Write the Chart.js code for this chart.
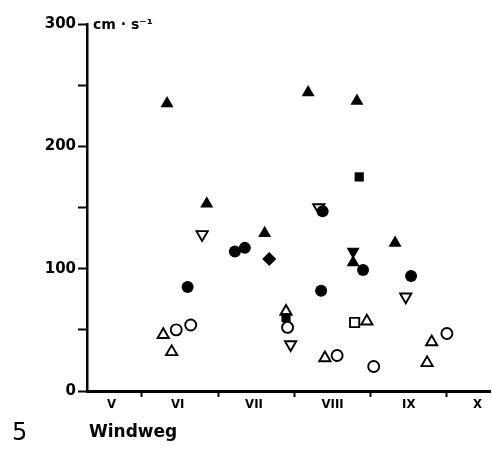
<!DOCTYPE html>
<html>
<head>
<meta charset="utf-8">
<script src="https://cdn.jsdelivr.net/npm/chart.js@4/dist/chart.umd.min.js"></script>
<style>
  html, body { margin: 0; padding: 0; background: #fff; }
  canvas { display: block; }
</style>
</head>
<body>
<canvas id="myChart" width="492" height="450"></canvas>
<script>
// x is time in months: 6 = start of June, 7 = start of July, ...
// y is wind run in cm/s
const filledTriangles = [[6.33, 235], [6.85, 153], [7.61, 129], [8.18, 244], [8.82, 237], [8.77, 105], [9.32, 121]];
const filledCircles   = [[6.60, 85], [7.22, 114], [7.35, 117], [8.37, 147], [8.35, 82], [8.90, 99], [9.53, 94]];
const openTriangles   = [[6.28, 46], [6.39, 32], [7.89, 65], [8.40, 27], [8.95, 57], [9.80, 40], [9.74, 23]];
const openCircles     = [[6.45, 50], [6.64, 54], [7.91, 52], [8.56, 29], [9.04, 20], [10.0, 47]];
const openNablas      = [[6.79, 128], [8.32, 150], [7.95, 38], [9.46, 77]];
const filledNablas    = [[8.77, 114]];
const filledSquares   = [[8.85, 175], [7.89, 60]];
const openSquares     = [[8.79, 56]];
const filledDiamonds  = [[7.67, 108]];

const monthLabels = ['V', 'VI', 'VII', 'VIII', 'IX', 'X'];
const monthLabelAt = [5.6, 6.47, 7.47, 8.5, 9.5, 10.4];
const monthStarts = [6, 7, 8, 9, 10];

const yLabels = [0, 100, 200, 300];

const toPoints = arr => arr.map(p => ({ x: p[0], y: p[1] }));

function series(pts, style, filled, radius, rotation, order) {
  return {
    data: toPoints(pts),
    pointStyle: style,
    pointRadius: radius,
    pointHoverRadius: radius,
    pointRotation: rotation || 0,
    backgroundColor: filled ? '#000' : '#fff',
    borderColor: '#000',
    borderWidth: filled ? 0 : 1.9,
    showLine: false,
    order: order
  };
}

// figure number, axis title and unit label
const extraText = {
  id: 'extraText',
  afterDraw(chart) {
    const ctx = chart.ctx;
    ctx.save();
    ctx.fillStyle = '#000';
    ctx.textBaseline = 'alphabetic';
    ctx.font = 'bold 14px "DejaVu Sans"';
    ctx.fillText('cm · s⁻¹', 93, 29);
    ctx.font = '24px "DejaVu Sans"';
    ctx.fillText('5', 12, 440);
    ctx.font = 'bold 17px "DejaVu Sans"';
    ctx.fillText('Windweg', 89, 437);
    ctx.restore();
  }
};

const config = {
  type: 'scatter',
  data: {
    datasets: [
      series(openNablas, 'triangle', false, 6.5, 180, 9),
      series(filledTriangles, 'triangle', true, 7.5, 0, 8),
      series(openTriangles, 'triangle', false, 6.5, 0, 7),
      series(filledSquares, 'rect', true, 6.5, 0, 6),
      series(openCircles, 'circle', false, 5.5, 0, 5),
      series(openSquares, 'rect', false, 6.5, 0, 4),
      series(filledNablas, 'triangle', true, 7.5, 180, 3),
      series(filledDiamonds, 'rectRot', true, 7, 0, 2),
      series(filledCircles, 'circle', true, 6, 0, 1)
    ]
  },
  options: {
    responsive: false,
    animation: false,
    events: [],
    layout: { autoPadding: false, padding: { top: 24, right: 2, left: 0, bottom: 0 } },
    plugins: { legend: { display: false }, tooltip: { enabled: false } },
    scales: {
      x: {
        type: 'linear',
        min: 5.28,
        max: 10.565,
        afterFit(scale) {
          scale.height = 59;
          scale.paddingLeft = 0;
          scale.paddingRight = 0;
        },
        afterBuildTicks(scale) {
          scale.ticks = monthStarts.concat(monthLabelAt)
            .sort((a, b) => a - b)
            .map(v => ({ value: v }));
        },
        border: { color: '#000', width: 3 },
        grid: {
          drawOnChartArea: false,
          tickLength: 6,
          tickWidth: 2,
          tickColor: ctx => (ctx.tick && ctx.tick.label === '') ? '#000' : 'rgba(0,0,0,0)'
        },
        ticks: {
          autoSkip: false,
          maxRotation: 0,
          padding: 0,
          color: '#000',
          font: { family: '"DejaVu Sans Condensed"', weight: 'bold', size: 13 },
          callback: value => {
            const i = monthLabelAt.indexOf(value);
            return i >= 0 ? monthLabels[i] : '';
          }
        }
      },
      y: {
        min: 0,
        max: 300,
        afterFit(scale) {
          scale.width = 87;
          scale.paddingTop = 0;
          scale.paddingBottom = 0;
        },
        border: { color: '#000', width: 2.5 },
        grid: {
          drawOnChartArea: false,
          tickLength: 9,
          tickWidth: 2,
          tickColor: '#000'
        },
        ticks: {
          stepSize: 50,
          padding: 2,
          color: '#000',
          font: { family: '"DejaVu Sans"', weight: 'bold', size: 15 },
          callback: v => yLabels.includes(v) ? String(v) : ''
        }
      }
    }
  },
  plugins: [extraText]
};

const myChart = new Chart(document.getElementById('myChart'), config);
</script>
</body>
</html>
